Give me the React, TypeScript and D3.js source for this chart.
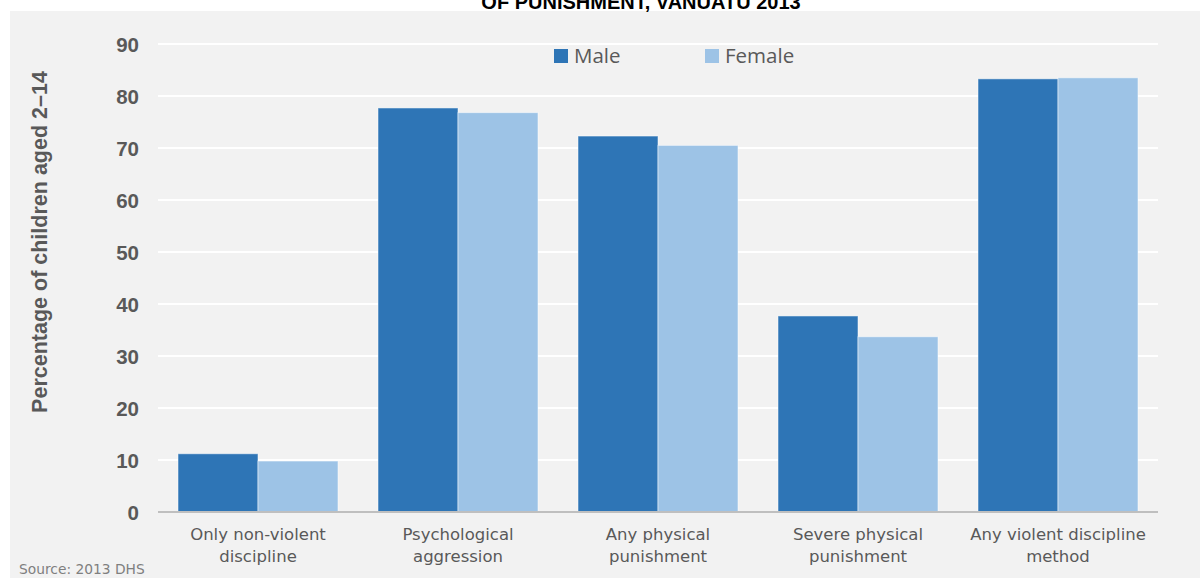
import React from "react";
import * as d3 from "d3";

const categories: string[][] = [
  ["Only non-violent", "discipline"],
  ["Psychological", "aggression"],
  ["Any physical", "punishment"],
  ["Severe physical", "punishment"],
  ["Any violent discipline", "method"],
];
const maleValues = [11.2, 77.7, 72.3, 37.7, 83.3];
const femaleValues = [9.8, 76.8, 70.5, 33.7, 83.5];
const yTicks = [0, 10, 20, 30, 40, 50, 60, 70, 80, 90];
const seriesNames = ["Male", "Female"];
const colors = ["#2E75B6", "#9DC3E6"];

const W = 1200;
const H = 578;
const left = 158;
const right = 1158;
const top = 44;
const bottom = 512;

export default function App() {
  const x = d3
    .scaleBand<number>()
    .domain(categories.map((_, i) => i))
    .range([left, right])
    .paddingInner(0.2)
    .paddingOuter(0.1);
  const inner = d3.scaleBand<number>().domain([0, 1]).range([0, x.bandwidth()]);
  const y = d3.scaleLinear().domain([0, 90]).range([bottom, top]);
  const series = [maleValues, femaleValues];
  const font = "Liberation Sans, Arial, sans-serif";
  const labelFont = "DejaVu Sans, Verdana, sans-serif";

  return (
    <svg width={W} height={H} style={{ position: "absolute", left: 0, top: 0 }}>
      <rect x={0} y={0} width={W} height={H} fill="#ffffff" />
      <rect x={10} y={11} width={W - 10} height={H - 11} fill="#F2F2F2" />
      <text x={641} y={9} textAnchor="middle" fontFamily={font} fontWeight="bold" fontSize={20} fill="#000">
        OF PUNISHMENT, VANUATU 2013
      </text>
      {yTicks.map((t) =>
        t === 0 ? null : (
          <line key={t} x1={left} x2={right} y1={y(t)} y2={y(t)} stroke="#ffffff" strokeWidth={2} />
        )
      )}
      {yTicks.map((t) => (
        <text key={"l" + t} x={139} y={y(t) + 7.5} textAnchor="end" fontFamily={font} fontWeight="bold" fontSize={20.5} fill="#595959">
          {t}
        </text>
      ))}
      <text
        transform={`translate(47, 242) rotate(-90)`}
        textAnchor="middle"
        fontFamily={font}
        fontWeight="bold"
        fontSize={21.5}
        fill="#595959"
      >
        Percentage of children aged 2–14
      </text>
      {series.map((vals, s) =>
        vals.map((v, i) => (
          <rect
            key={s + "-" + i}
            x={(x(i) as number) + (inner(s) as number)}
            y={y(v)}
            width={inner.bandwidth()}
            height={bottom - y(v)}
            fill={colors[s]}
            stroke="#ffffff"
            strokeOpacity={0.5}
            strokeWidth={1}
          />
        ))
      )}
      <line x1={left} x2={right} y1={bottom} y2={bottom} stroke="#BFBFBF" strokeWidth={2} />
      {categories.map((lines, i) => (
        <text key={"c" + i} textAnchor="middle" fontFamily={labelFont} fontSize={16.5} fill="#595959">
          {lines.map((ln, j) => (
            <tspan key={j} x={(x(i) as number) + x.bandwidth() / 2} y={540 + j * 22}>
              {ln}
            </tspan>
          ))}
        </text>
      ))}
      {seriesNames.map((n, s) => (
        <g key={n} transform={`translate(${554 + s * 151}, 49)`}>
          <rect x={0} y={0} width={14} height={14} fill={colors[s]} />
          <text x={20} y={14} fontFamily="Open Sans, sans-serif" fontSize={20.5} fill="#595959">
            {n}
          </text>
        </g>
      ))}
      <text x={19} y={574} fontFamily={labelFont} fontSize={13.8} fill="#7F7F7F">
        Source: 2013 DHS
      </text>
    </svg>
  );
}
